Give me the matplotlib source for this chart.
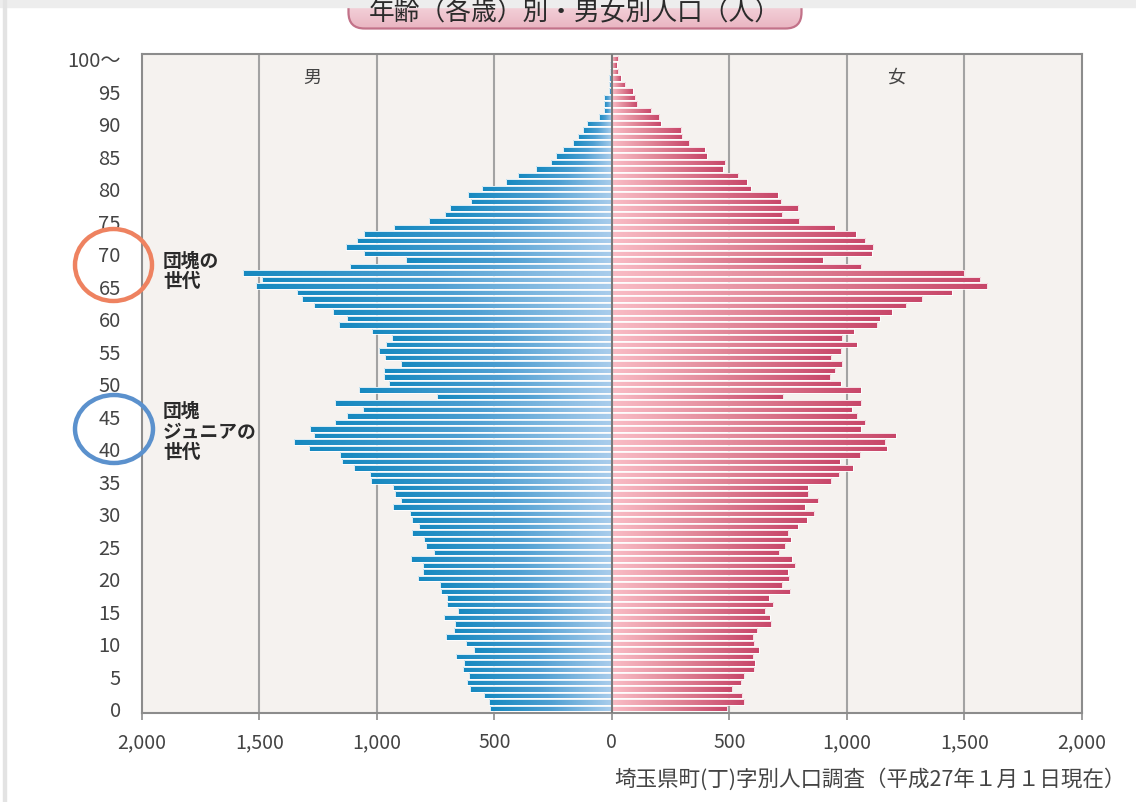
import numpy as np
import matplotlib
matplotlib.use("Agg")
import matplotlib.pyplot as plt
from matplotlib.colors import LinearSegmentedColormap
from matplotlib.patches import Ellipse, FancyBboxPatch, Rectangle

plt.rcParams['font.family'] = ['Noto Sans CJK JP', 'DejaVu Sans']

# ---- data (persons, age 0 .. 100+) ----
ages = np.arange(0, 101)

male = [517, 521, 543, 602, 615, 609, 633, 628, 663, 585,
        622, 704, 670, 666, 713, 653, 701, 701, 727, 730,
        825, 805, 802, 854, 757, 792, 798, 850, 819, 849,
        857, 932, 898, 921, 932, 1024, 1027, 1097, 1148, 1158,
        1289, 1351, 1268, 1285, 1179, 1125, 1058, 1176, 744, 1074,
        948, 970, 968, 898, 966, 989, 962, 937, 1020, 1162,
        1125, 1186, 1268, 1319, 1339, 1512, 1487, 1570, 1115, 874,
        1056, 1133, 1084, 1056, 925, 779, 709, 690, 600, 614,
        553, 452, 401, 323, 258, 238, 206, 166, 142, 121,
        104, 55, 32, 33, 33, 13, 12, 10, 6, 7,
        3]

female = [490, 562, 554, 511, 550, 564, 605, 608, 600, 625,
          605, 600, 619, 677, 671, 653, 686, 667, 758, 725,
          755, 748, 780, 765, 712, 738, 761, 749, 790, 829,
          860, 820, 878, 834, 833, 932, 966, 1024, 969, 1055,
          1169, 1164, 1207, 1058, 1077, 1043, 1020, 1062, 728, 1058,
          973, 928, 950, 979, 933, 975, 1041, 979, 1028, 1128,
          1140, 1191, 1251, 1319, 1446, 1596, 1567, 1499, 1062, 897,
          1106, 1113, 1078, 1037, 948, 796, 724, 792, 720, 706,
          591, 574, 538, 472, 483, 404, 395, 330, 299, 295,
          208, 200, 166, 108, 98, 88, 57, 38, 26, 21,
          26]

xticks = [-2000, -1500, -1000, -500, 0, 500, 1000, 1500, 2000]
xtick_labels = ["2,000", "1,500", "1,000", "500", "0", "500", "1,000", "1,500", "2,000"]
yticks = list(range(0, 101, 5))
ytick_labels = [str(v) for v in range(0, 100, 5)] + ["100～"]

title = "年齢（各歳）別・男女別人口（人）"
source = "埼玉県町(丁)字別人口調査（平成27年１月１日現在）"

W, H = 1136, 803
fig = plt.figure(figsize=(W / 100, H / 100), dpi=100)
fig.patch.set_facecolor("white")


def px(x, y):
    # pixel position (from top-left) -> figure fraction
    return x / W, 1 - y / H


ax = fig.add_axes([141.7 / W, 1 - 714 / H, (1082 - 141.7) / W, (714 - 54.7) / H])
ax.set_facecolor("#f5f2ef")

# gradient bars: each bar is a clip path for a gradient image
cm_male = LinearSegmentedColormap.from_list("m", ["#1689c0", "#4e9fd2", "#aacdec"])
cm_fem = LinearSegmentedColormap.from_list("f", ["#f9bcc5", "#e08496", "#c8476a"])
grad = np.linspace(0, 1, 256).reshape(1, -1)
bh = 0.84

bars_m = ax.barh(ages, [-v for v in male], height=bh, color="none",
                 edgecolor="white", linewidth=0.6, zorder=4)
bars_f = ax.barh(ages, female, height=bh, color="none",
                 edgecolor="white", linewidth=0.6, zorder=4)

for b in bars_m:
    x0 = b.get_x() + b.get_width()
    y0 = b.get_y()
    im = ax.imshow(grad, cmap=cm_male, extent=[x0, 0, y0 - 0.1, y0 + bh + 0.1],
                   aspect="auto", zorder=3, interpolation="bilinear")
    im.set_clip_path(b)
for b in bars_f:
    y0 = b.get_y()
    im = ax.imshow(grad, cmap=cm_fem, extent=[0, b.get_width(), y0 - 0.1, y0 + bh + 0.1],
                   aspect="auto", zorder=3, interpolation="bilinear")
    im.set_clip_path(b)

ax.set_xlim(-2000, 2000)
ax.set_ylim(-0.72, 100.72)
ax.set_aspect("auto")

# grid lines
for v in [-1500, -1000, -500, 500, 1000, 1500]:
    ax.axvline(v, color="#a3a3a3", lw=1.5, zorder=1)
ax.axvline(0, color="#7a7a7a", lw=1.5, zorder=5)

for s in ax.spines.values():
    s.set_color("#8c8c8c")
    s.set_linewidth(1.5)

ax.set_xticks(xticks)
ax.set_xticklabels(xtick_labels)
ax.set_yticks(yticks)
ax.set_yticklabels(ytick_labels)
ax.tick_params(axis="x", direction="out", length=5, width=1.2, color="#8c8c8c",
               labelsize=14, labelcolor="#444444", pad=8)
ax.tick_params(axis="y", length=0, labelsize=14.5, labelcolor="#444444", pad=15)

ax.text(-1275, 97.2, "男", fontsize=13, color="#444444", ha="center", va="center")
ax.text(1210, 97.2, "女", fontsize=13, color="#444444", ha="center", va="center")

# annotations
fig.text(*px(163, 271), "団塊の\n世代", fontsize=13.5, fontweight="bold",
         color="#2a2a2a", ha="left", va="center", linespacing=1.1)
fig.text(*px(163, 432), "団塊\nジュニアの\n世代", fontsize=13.5, fontweight="bold",
         color="#2a2a2a", ha="left", va="center", linespacing=1.1)

fig.patches.append(Ellipse(px(113.5, 266), 77 / W, 72 / H, fill=False,
                           edgecolor="#ee8260", lw=3.2, transform=fig.transFigure,
                           zorder=10))
fig.patches.append(Ellipse(px(114, 430), 78 / W, 68 / H, fill=False,
                           edgecolor="#5b91cd", lw=3.2, transform=fig.transFigure,
                           zorder=10))

# source note
fig.text(*px(1126, 779), source, fontsize=15.5, color="#444444", ha="right", va="center")

# card edge shading
fig.patches.append(Rectangle((0, 1 - 8 / H), 1, 8 / H, color="#ededed",
                             transform=fig.transFigure, zorder=0))
fig.patches.append(Rectangle((3 / W, 0), 3 / W, 1, color="#e3e3e3",
                             transform=fig.transFigure, zorder=0))

# title pill (axes spans pixel rows -12 .. 31)
tax = fig.add_axes([347 / W, 1 - 31 / H, 456 / W, 43 / H])
tax.axis("off")
pill = FancyBboxPatch((1.5, 1.5), 453, 60, boxstyle="round,pad=0,rounding_size=16",
                      facecolor="none", edgecolor="#c27289", lw=1.6, zorder=3)
tax.add_patch(pill)
vgrad = np.linspace(1, 0, 64).reshape(-1, 1)
cm_pill = LinearSegmentedColormap.from_list("p", ["#e9b3c0", "#fbeaee"])
im = tax.imshow(vgrad, cmap=cm_pill, extent=[0, 456, 0, 43], origin="upper",
                aspect="auto", zorder=2)
im.set_clip_path(pill)
tax.set_xlim(0, 456)
tax.set_ylim(0, 43)

fig.text(575 / W, 1 - 12 / H, title, fontsize=18.5, color="#2b2b2b",
         ha="center", va="center", zorder=20)

fig.savefig("out.png", dpi=100, facecolor="white")
